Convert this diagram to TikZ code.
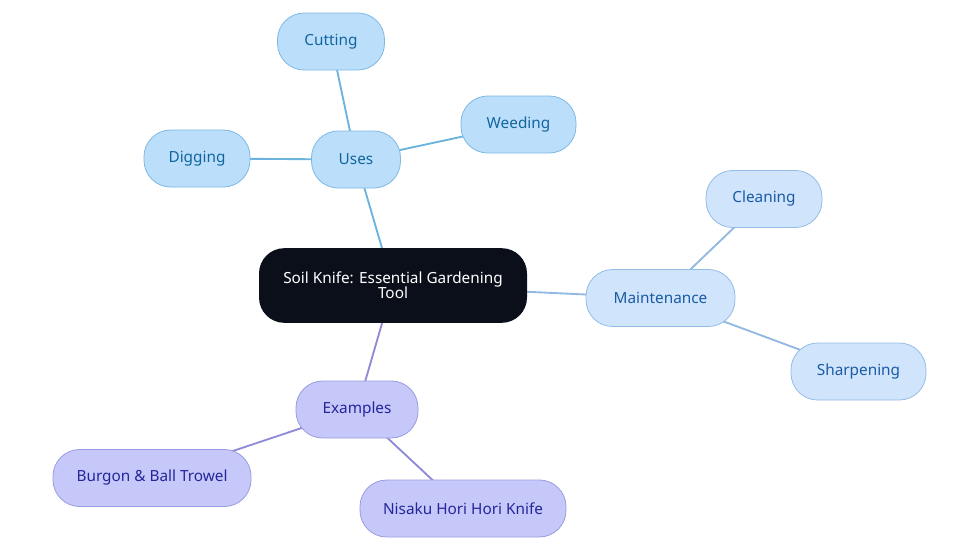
\documentclass[tikz,border=0pt]{standalone}
\usepackage{fontspec}
\setmainfont{Noto Sans}
\usetikzlibrary{backgrounds}
\definecolor{rootfill}{HTML}{0B0F19}
\definecolor{usefill}{HTML}{BBDEFB}
\definecolor{usedraw}{HTML}{7DB9E3}
\definecolor{usetext}{HTML}{11659E}
\definecolor{usesline}{HTML}{6CB4DE}
\definecolor{mainfill}{HTML}{D0E5FB}
\definecolor{maindraw}{HTML}{93BCE6}
\definecolor{maintext}{HTML}{1A5AA6}
\definecolor{mainline}{HTML}{93B8E2}
\definecolor{exfill}{HTML}{C6C8FA}
\definecolor{exdraw}{HTML}{9A9BE0}
\definecolor{extext}{HTML}{25259A}
\definecolor{exline}{HTML}{8F8BD8}
\begin{document}
\begin{tikzpicture}[x=0.75pt, y=-0.75pt,
    pill/.style={rounded corners=20pt, minimum height=42.75pt, font=\fontsize{11.5}{13.5}\selectfont, align=center, line width=0.6pt},
    usenode/.style={pill, fill=usefill, draw=usedraw, text=usetext},
    mainnode/.style={pill, fill=mainfill, draw=maindraw, text=maintext},
    exnode/.style={pill, fill=exfill, draw=exdraw, text=extext},
    link/.style={line width=1.4pt}]
  \useasboundingbox (0,0) rectangle (980,553);
  % centre
  \node[pill, fill=rootfill, text=white, minimum width=201pt, minimum height=56pt, rounded corners=19pt] (root) at (393,285.5) {Soil Knife: Essential Gardening\\[-2pt]Tool};
  % uses branch
  \node[usenode, minimum width=66.75pt] (uses) at (356,159.5) {Uses};
  \node[usenode, minimum width=80.25pt] (cutting) at (331,41.5) {Cutting};
  \node[usenode, minimum width=86.25pt] (weeding) at (518.5,124.5) {Weeding};
  \node[usenode, minimum width=79.5pt] (digging) at (197,158.5) {Digging};
  % maintenance branch
  \node[mainnode, minimum width=111.75pt] (maint) at (660.5,298) {Maintenance};
  \node[mainnode, minimum width=87pt] (cleaning) at (764,199) {Cleaning};
  \node[mainnode, minimum width=101.25pt] (sharpen) at (858.5,371.5) {Sharpening};
  % examples branch
  \node[exnode, minimum width=91.5pt] (examples) at (357,409.5) {Examples};
  \node[exnode, minimum width=148.5pt] (burgon) at (152,478) {Burgon \& Ball Trowel};
  \node[exnode, minimum width=154.5pt] (nisaku) at (463,508.5) {Nisaku Hori Hori Knife};
  % links
  \begin{scope}[on background layer]
    \draw[link, usesline] (root.center) -- (uses.center);
    \draw[link, usesline] (uses.center) -- (cutting.center);
    \draw[link, usesline] (uses.center) -- (weeding.center);
    \draw[link, usesline] (uses.center) -- (digging.center);
    \draw[link, mainline] (root.center) -- (maint.center);
    \draw[link, mainline] (maint.center) -- (cleaning.center);
    \draw[link, mainline] (maint.center) -- (sharpen.center);
    \draw[link, exline] (root.center) -- (examples.center);
    \draw[link, exline] (examples.center) -- (burgon.center);
    \draw[link, exline] (examples.center) -- (nisaku.center);
  \end{scope}
\end{tikzpicture}
\end{document}
